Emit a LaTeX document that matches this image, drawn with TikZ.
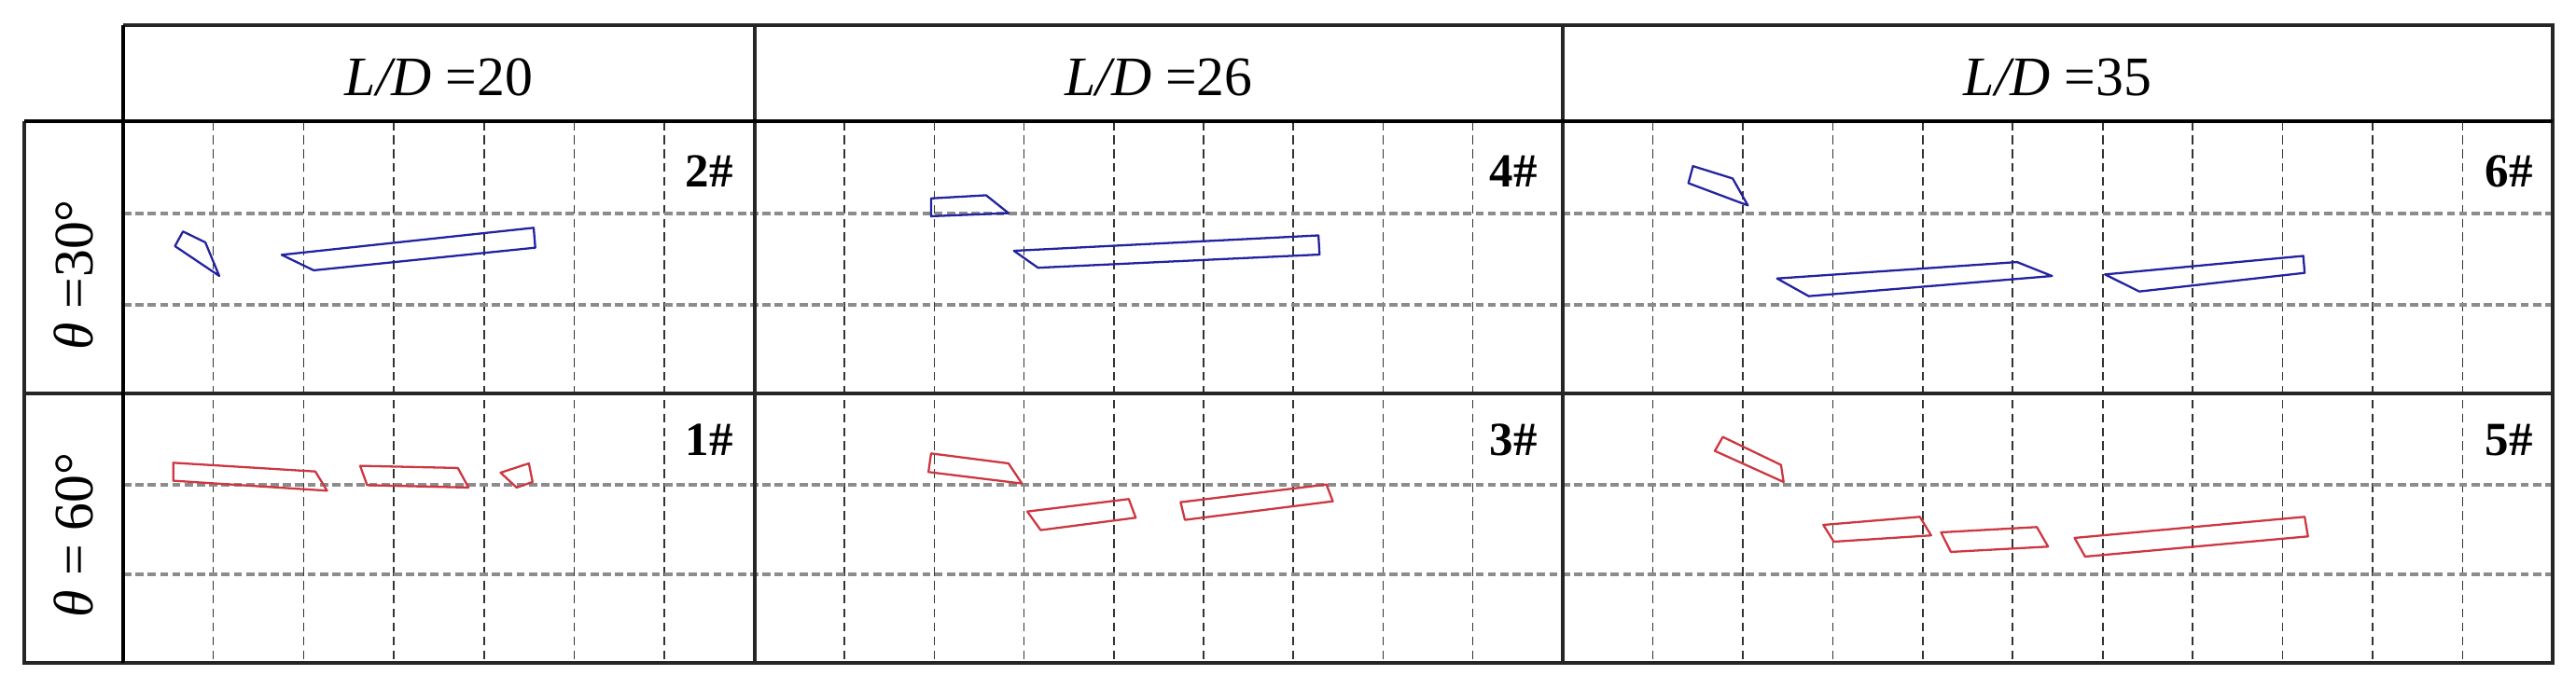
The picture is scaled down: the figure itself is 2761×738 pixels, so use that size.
\documentclass[tikz,border=0pt]{standalone}
\usepackage{fontspec}
\setmainfont{Liberation Serif}
\definecolor{barblue}{RGB}{35,35,160}
\definecolor{barred}{RGB}{205,55,65}
\begin{document}
\begin{tikzpicture}[x=0.02cm,y=-0.02cm,
  frame/.style={line width=1.8pt,black!85},
  heavyframe/.style={line width=2.8pt,black},
  vgrid/.style={line width=0.9pt,black!80,dash pattern=on 5.5pt off 3pt},
  hgrid/.style={line width=2pt,black!45,dash pattern=on 5pt off 2.5pt},
  bluebar/.style={line width=1.3pt,draw=barblue,line join=round},
  redbar/.style={line width=1.3pt,draw=barred,line join=round},
  hdr/.style={font=\fontsize{34}{40}\selectfont,inner sep=0pt,anchor=base},
  sidelab/.style={font=\fontsize{34}{40}\selectfont,inner sep=0pt,rotate=90},
  tag/.style={font=\fontsize{29}{34}\selectfont\bfseries,anchor=base east,inner sep=0pt}]
\useasboundingbox (0,0) rectangle (2761,738);
% grid
\foreach \i in {1,...,6} \draw[vgrid] ({132+\i*96.7},130) -- ({132+\i*96.7},711);
\foreach \i in {1,...,8} \draw[vgrid] ({809+\i*96.2},130) -- ({809+\i*96.2},711);
\foreach \i in {1,...,10} \draw[vgrid] ({1675+\i*96.45},130) -- ({1675+\i*96.45},711);
\foreach \y in {229,327,520,616} \draw[hgrid] (132,\y) -- (2736,\y);
% frame
\draw[frame] (132,27) -- (2736,27) -- (2736,711) -- (26,711) -- (26,130);
\draw[frame] (809,27) -- (809,711);
\draw[frame] (1675,27) -- (1675,711);
\draw[frame] (26,422) -- (2736,422);
\draw[heavyframe] (132,27) -- (132,711);
\draw[heavyframe] (26,130) -- (2736,130);
% texts
\node[hdr] (h1) at (470.5,102) {\textit{L/D} =20};
\node[hdr] (h2) at (1242,102) {\textit{L/D} =26};
\node[hdr] (h3) at (2205.5,102) {\textit{L/D} =35};
\node[sidelab] (s1) at (79,295) {\textit{θ} =30°};
\node[sidelab] (s2) at (79,574) {\textit{θ} = 60°};
\node[tag] (t2) at (786,200) {2\#};
\node[tag] (t1) at (786,488) {1\#};
\node[tag] (t4) at (1648,200) {4\#};
\node[tag] (t3) at (1648,488) {3\#};
\node[tag] (t6) at (2715,200) {6\#};
\node[tag] (t5) at (2715,488) {5\#};
% panel 2#
\begin{scope}[shift={(132,130)},xscale=96.7,yscale=98.3]
\draw[bluebar] (0.663,1.203) -- (0.574,1.363) -- (1.065,1.688) -- (0.911,1.322) -- cycle;
\draw[bluebar] (1.757,1.458) -- (4.550,1.163) -- (4.568,1.380) -- (2.112,1.627) -- cycle;
\end{scope}
% panel 1#
\begin{scope}[shift={(132,422)},xscale=96.7,yscale=96.3]
\draw[redbar] (0.556,0.772) -- (2.130,0.869) -- (2.260,1.083) -- (0.556,0.972) -- cycle;
\draw[redbar] (2.627,0.806) -- (3.710,0.830) -- (3.828,1.048) -- (2.704,1.021) -- cycle;
\draw[redbar] (4.183,0.882) -- (4.497,0.779) -- (4.538,0.986) -- (4.361,1.048) -- cycle;
\end{scope}
% panel 4#
\begin{scope}[shift={(809,130)},xscale=96.2,yscale=98.3]
\draw[bluebar] (1.964,0.842) -- (2.577,0.808) -- (2.827,1.003) -- (1.964,1.037) -- cycle;
\draw[bluebar] (2.887,1.414) -- (6.280,1.246) -- (6.292,1.455) -- (3.155,1.599) -- cycle;
\end{scope}
% panel 3#
\begin{scope}[shift={(809,422)},xscale=96.2,yscale=96.3]
\draw[redbar] (1.964,0.668) -- (2.827,0.779) -- (2.976,1.003) -- (1.935,0.875) -- cycle;
\draw[redbar] (3.036,1.315) -- (4.167,1.176) -- (4.244,1.384) -- (3.185,1.522) -- cycle;
\draw[redbar] (4.744,1.211) -- (6.369,1.014) -- (6.440,1.201) -- (4.792,1.408) -- cycle;
\end{scope}
% panel 6#
\begin{scope}[shift={(1675,130)},xscale=96.45,yscale=98.3]
\draw[bluebar] (1.447,0.490) -- (1.396,0.676) -- (2.057,0.919) -- (1.888,0.625) -- cycle;
\draw[bluebar] (2.381,1.716) -- (5.048,1.537) -- (5.437,1.689) -- (2.733,1.909) -- cycle;
\draw[bluebar] (6.025,1.672) -- (8.229,1.470) -- (8.244,1.655) -- (6.407,1.858) -- cycle;
\end{scope}
% panel 5#
\begin{scope}[shift={(1675,422)},xscale=96.45,yscale=96.3]
\draw[redbar] (1.778,0.484) -- (1.690,0.640) -- (2.454,0.986) -- (2.425,0.796) -- cycle;
\draw[redbar] (2.895,1.464) -- (3.968,1.374) -- (4.093,1.581) -- (3.012,1.651) -- cycle;
\draw[redbar] (4.203,1.547) -- (5.268,1.488) -- (5.393,1.706) -- (4.313,1.765) -- cycle;
\draw[redbar] (5.687,1.609) -- (8.244,1.374) -- (8.281,1.592) -- (5.804,1.817) -- cycle;
\end{scope}
\end{tikzpicture}
\end{document}
